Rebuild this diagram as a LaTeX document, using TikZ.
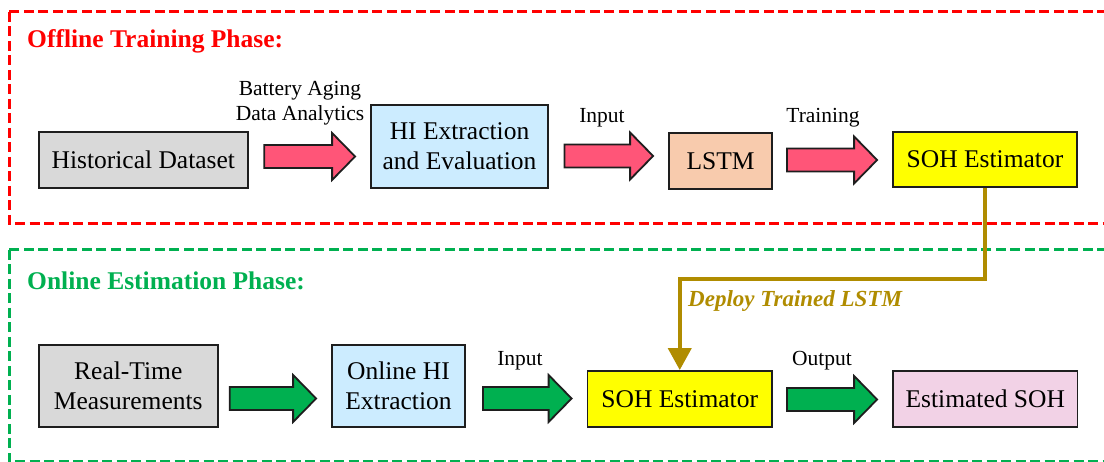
\documentclass[tikz,border=0pt]{standalone}
\usepackage{fontspec}
\setmainfont{Liberation Serif}
\usetikzlibrary{calc,arrows.meta}
\definecolor{boxgray}{RGB}{217,217,217}
\definecolor{boxblue}{RGB}{204,236,255}
\definecolor{boxpeach}{RGB}{248,203,173}
\definecolor{boxyellow}{RGB}{255,255,0}
\definecolor{boxpink}{RGB}{242,210,230}
\definecolor{arrpink}{RGB}{255,85,120}
\definecolor{arrgreen}{RGB}{0,176,80}
\definecolor{phasered}{RGB}{255,0,0}
\definecolor{phasegreen}{RGB}{0,176,80}
\definecolor{gold}{RGB}{176,140,0}
\definecolor{edge}{RGB}{30,30,30}
\tikzset{
  box/.style={draw=edge, line width=1.8pt, align=center, inner sep=0pt,
    font=\fontsize{25.5}{30}\selectfont},
  lbl/.style={align=center, inner sep=0pt, font=\fontsize{21.5}{25}\selectfont},
  phasebox/.style={line width=3pt, dash pattern=on 10pt off 4.5pt},
  phasetitle/.style={anchor=west, inner sep=0pt, font=\fontsize{25.5}{30}\selectfont\bfseries},
  barrow/.style={draw=edge, line width=1.8pt, line join=miter},
  deploy/.style={draw=gold, line width=4pt, -{Triangle[width=23pt,length=22pt]}},
}
\newcommand\blockarrow[5]{%
  \filldraw[barrow, fill=#4] let \p1=(#1.east), \p2=(#2.west) in
    ({\x1+#5pt},{-#3pt+11.5pt}) -- ({\x2-38pt},{-#3pt+11.5pt}) --
    ({\x2-38pt},{-#3pt+23.5pt}) -- ({\x2-15pt},{-#3pt}) --
    ({\x2-38pt},{-#3pt-23.5pt}) -- ({\x2-38pt},{-#3pt-11.5pt}) --
    ({\x1+#5pt},{-#3pt-11.5pt}) -- cycle;}
\begin{document}
\begin{tikzpicture}[x=1pt,y=-1pt]
\useasboundingbox (0,0) rectangle (1104,462);
% phase frames
\draw[phasebox, draw=phasered] (9,12) rectangle (1115,223.5);
\draw[phasebox, draw=phasegreen] (9,250) rectangle (1115,461.5);
\node[phasetitle, text=phasered] (t1) at (27,41.5) {Offline Training Phase:};
\node[phasetitle, text=phasegreen] (t2) at (27,280.5) {Online Estimation Phase:};
% offline row
\node[box, fill=boxgray, minimum width=209pt, minimum height=56pt] (hist) at (143.3,160) {Historical Dataset};
\node[box, fill=boxblue, minimum width=177pt, minimum height=83pt] (hi) at (459.5,146.5) {HI Extraction\\and Evaluation};
\node[box, fill=boxpeach, minimum width=103pt, minimum height=56pt] (lstm) at (720.5,161) {LSTM};
\node[box, fill=boxyellow, minimum width=184pt, minimum height=55pt] (sohA) at (985,159.5) {SOH Estimator};
% online row
\node[box, fill=boxgray, minimum width=179pt, minimum height=82pt] (rt) at (128.3,386) {Real-Time\\Measurements};
\node[box, fill=boxblue, minimum width=133pt, minimum height=82pt] (ohi) at (398.5,386) {Online HI\\Extraction};
\node[box, fill=boxyellow, minimum width=184.5pt, minimum height=56pt] (sohB) at (679.75,399) {SOH Estimator};
\node[box, fill=boxpink, minimum width=184.5pt, minimum height=56pt] (est) at (985.25,399) {Estimated SOH};
% block arrows
\blockarrow{hist}{hi}{156.5}{arrpink}{15.5}
\blockarrow{hi}{lstm}{156}{arrpink}{15.5}
\blockarrow{lstm}{sohA}{160}{arrpink}{14}
\blockarrow{rt}{ohi}{398.5}{arrgreen}{11}
\blockarrow{ohi}{sohB}{398.5}{arrgreen}{17}
\blockarrow{sohB}{est}{399.5}{arrgreen}{14}
% labels
\node[lbl] (l1) at (300,103.5) {Battery Aging\\Data Analytics};
\node[lbl] (l2) at (602,118) {Input};
\node[lbl] (l3) at (823,118) {Training};
\node[lbl] (l4) at (520,361) {Input};
\node[lbl] (l5) at (822,361) {Output};
% deploy connector
\draw[deploy] (sohA.south) |- ([yshift=91pt]sohB.north) -- (sohB.north);
\node[anchor=west, inner sep=0pt, text=gold, font=\fontsize{23}{27}\selectfont\bfseries\itshape] (dl) at (688,301) {Deploy Trained LSTM};
\end{tikzpicture}
\end{document}
